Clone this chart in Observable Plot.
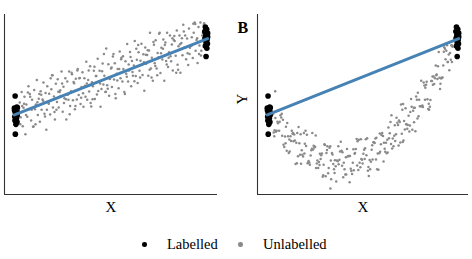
<!DOCTYPE html>
<html><head><meta charset="utf-8">
<script src="https://cdn.jsdelivr.net/npm/d3@7"></script>
<script src="https://cdn.jsdelivr.net/npm/@observablehq/plot@0.6"></script>
<style>
body{margin:0;background:#fff;}
#wrap{position:relative;width:472px;height:259px;font-family:"Liberation Serif","Times New Roman",serif;color:#000;}
.panel{position:absolute;top:0;}
.dot{position:absolute;top:242px;width:4.5px;height:4.5px;border-radius:50%;}
.lab{position:absolute;top:237px;font-size:14.5px;line-height:14.5px;white-space:nowrap;}
</style></head>
<body><div id="wrap"></div>
<script>
// Labelled points (shared by both panels), [X, Y]
const labelled = [
[-0.004,0.227],[0.005,0.08],[-0.008,0.065],[0.008,0.07],[0.0,0.05],[-0.007,0.035],[0.006,0.02],[-0.003,0.0],[0.007,-0.03],[-0.006,-0.05],[0.003,-0.07],[-0.005,-0.1],[0.006,-0.12],[0.0,-0.15],[-0.003,-0.28],
[0.996,1.14],[1.003,1.11],[0.993,1.08],[1.008,1.06],[0.998,1.03],[1.008,1.01],[0.994,0.99],[1.005,0.97],[1.0,0.94],[1.007,0.92],[0.996,0.89],[1.004,0.86],[1.0,0.75]
];
// Panel A unlabelled points
const unlabelledA = [
[0.02,0.14],[0.025,-0.055],[0.03,0.28],[0.036,-0.174],[0.04,0.07],[0.045,0.215],[0.05,-0.28],[0.055,0.115],[0.06,-0.05],[0.066,0.356],
[0.07,0.05],[0.075,0.215],[0.08,-0.1],[0.085,0.175],[0.09,-0.18],[0.096,0.306],[0.1,0.05],[0.105,0.115],[0.11,0.44],[0.115,-0.025],
[0.12,0.19],[0.126,-0.114],[0.13,0.29],[0.135,0.045],[0.14,0.18],[0.145,0.405],[0.15,-0.01],[0.156,0.266],[0.16,-0.22],[0.165,0.355],
[0.17,0.14],[0.175,0.255],[0.18,-0.02],[0.186,0.316],[0.19,0.5],[0.195,0.075],[0.2,0.22],[0.205,-0.085],[0.21,0.39],[0.216,0.146],
[0.22,0.45],[0.225,0.075],[0.23,0.28],[0.235,0.225],[0.24,0.55],[0.246,0.016],[0.25,0.35],[0.255,0.195],[0.26,0.46],[0.265,-0.085],
[0.27,0.42],[0.276,0.176],[0.28,0.55],[0.285,0.095],[0.29,0.29],[0.295,0.515],[0.3,0.17],[0.306,0.396],[0.31,0.05],[0.315,0.455],
[0.32,0.18],[0.325,0.585],[0.33,0.24],[0.336,0.466],[0.34,0.12],[0.345,0.345],[0.35,0.54],[0.355,0.085],[0.36,0.46],[0.366,0.216],
[0.37,0.68],[0.375,0.175],[0.38,0.44],[0.385,0.285],[0.39,0.62],[0.396,0.086],[0.4,0.41],[0.405,0.355],[0.41,0.56],[0.415,0.185],
[0.42,0.49],[0.426,0.246],[0.43,0.72],[0.435,0.415],[0.44,0.56],[0.445,0.085],[0.45,0.32],[0.456,0.656],[0.46,0.38],[0.465,0.495],
[0.47,0.28],[0.475,0.855],[0.48,0.37],[0.486,0.646],[0.49,0.23],[0.495,0.455],[0.5,0.59],[0.505,0.345],[0.51,0.75],[0.516,0.446],
[0.52,0.66],[0.525,0.195],[0.53,0.52],[0.535,0.585],[0.54,0.33],[0.546,0.816],[0.55,0.46],[0.555,0.735],[0.56,0.42],[0.565,0.585],
[0.57,0.28],[0.576,0.686],[0.58,0.52],[0.585,0.915],[0.59,0.42],[0.595,0.565],[0.6,0.81],[0.606,0.356],[0.61,0.69],[0.615,0.495],
[0.62,0.63],[0.625,0.955],[0.63,0.49],[0.636,0.706],[0.64,0.4],[0.645,0.805],[0.65,0.56],[0.655,0.695],[0.66,0.92],[0.666,0.506],
[0.67,0.78],[0.675,0.295],[0.68,0.87],[0.685,0.655],[0.69,0.77],[0.696,0.496],[0.7,0.83],[0.705,1.065],[0.71,0.59],[0.715,0.735],
[0.72,0.43],[0.726,0.906],[0.73,0.66],[0.735,0.965],[0.74,0.59],[0.745,0.795],[0.75,0.74],[0.756,1.066],[0.76,0.53],[0.765,0.865],
[0.77,0.71],[0.775,0.975],[0.78,0.43],[0.786,0.936],[0.79,0.69],[0.795,1.065],[0.8,0.61],[0.805,0.805],[0.81,1.03],[0.816,0.686],
[0.82,0.91],[0.825,0.565],[0.83,0.97],[0.835,0.955],[0.84,0.76],[0.846,1.096],[0.85,0.64],[0.855,0.885],[0.86,1.03],[0.865,0.535],
[0.87,0.93],[0.876,0.766],[0.88,1.17],[0.885,0.865],[0.89,1.03],[0.895,0.715],[0.9,0.99],[0.906,0.636],[0.91,1.12],[0.915,0.865],
[0.92,0.89],[0.925,1.005],[0.93,0.73],[0.935,1.065],[0.94,1.2],[0.945,0.825],[0.95,0.97],[0.955,0.665],[0.96,1.14],[0.965,0.895],
[0.97,1.2],[0.975,0.825],[0.98,1.03],[0.985,0.975],[0.99,1.19],[0.995,0.765],
[0.023,-0.147],[0.043,0.123],[0.063,0.273],[0.083,0.043],[0.103,-0.147],[0.123,0.253],[0.143,0.163],[0.163,0.043],[0.183,0.463],[0.203,0.013],
[0.223,0.283],[0.243,0.393],[0.263,0.183],[0.283,-0.017],[0.303,0.413],[0.323,0.563],[0.343,0.203],[0.363,0.363],[0.383,0.563],[0.403,0.183],
[0.423,0.493],[0.443,0.393],[0.463,0.783],[0.483,0.323],[0.503,0.603],[0.523,0.253],[0.543,0.583],[0.563,0.753],[0.583,0.483],[0.603,0.743],
[0.623,0.423],[0.643,0.903],[0.663,0.643],[0.683,0.773],[0.703,0.573],[0.723,0.943],[0.743,0.503],[0.763,0.793],[0.783,0.903],[0.803,0.733],
[0.823,0.993],[0.843,0.533],[0.863,0.913],[0.883,1.083],[0.903,0.793],[0.923,0.893],[0.943,1.18],[0.963,0.783],[0.983,1.063],[0.995,0.935],
[0.033,0.093],[0.053,-0.027],[0.073,0.253],[0.093,-0.177],[0.113,0.143],[0.133,0.243],[0.153,-0.047],[0.173,0.123],[0.193,0.503],[0.213,0.043],
[0.233,0.303],[0.253,0.133],[0.273,0.243],[0.293,0.533],[0.313,0.093],[0.333,0.463],[0.353,0.263],[0.373,0.393],[0.393,0.133],[0.413,0.613],
[0.433,0.293],[0.453,0.553],[0.473,0.283],[0.493,0.453],[0.513,0.783],[0.533,0.433],[0.553,0.713],[0.573,0.253],[0.593,0.643],[0.613,0.543],
[0.633,0.853],[0.653,0.473],[0.673,0.673],[0.693,0.833],[0.713,0.473],[0.733,0.623],[0.753,1.053],[0.773,0.853],[0.793,0.643],[0.813,0.753],
[0.833,1.023],[0.853,0.573],[0.873,0.993],[0.893,0.873],[0.913,0.783],[0.933,1.183],[0.953,0.993],[0.973,0.763],[0.993,0.913],[0.988,1.168]
];
// Panel B unlabelled points
const unlabelledB = [
[0.022,-0.017],[0.042,-0.235],[0.062,-0.03],[0.082,-0.451],[0.102,-0.309],[0.122,-0.233],[0.142,-0.674],[0.162,-0.402],[0.182,-0.576],[0.202,-0.287],
[0.222,-0.564],[0.242,-0.458],[0.262,-0.728],[0.282,-0.535],[0.302,-0.839],[0.322,-0.459],[0.342,-0.676],[0.362,-0.63],[0.382,-0.38],[0.402,-0.746],
[0.422,-0.569],[0.442,-0.809],[0.462,-0.475],[0.482,-0.658],[0.502,-0.538],[0.522,-0.334],[0.542,-0.647],[0.562,-0.396],[0.582,-0.752],[0.602,-0.264],
[0.622,-0.393],[0.642,-0.269],[0.662,-0.441],[0.682,-0.13],[0.702,0.115],[0.722,-0.217],[0.742,-0.035],[0.762,-0.221],[0.782,0.218],[0.802,0.09],
[0.822,0.405],[0.842,0.183],[0.862,0.425],[0.882,0.461],[0.902,0.809],[0.922,0.472],[0.942,0.827],[0.962,0.796],
[0.026,-0.257],[0.046,-0.115],[0.066,-0.06],[0.086,-0.311],[0.106,-0.529],[0.126,-0.273],[0.146,-0.394],[0.166,-0.552],[0.186,-0.266],[0.206,-0.667],
[0.226,-0.494],[0.246,-0.448],[0.266,-0.648],[0.286,-0.845],[0.306,-0.529],[0.326,-0.439],[0.346,-0.746],[0.366,-0.64],[0.386,-0.5],[0.406,-0.816],
[0.426,-0.569],[0.446,-0.659],[0.466,-0.345],[0.486,-0.718],[0.506,-0.488],[0.526,-0.764],[0.546,-0.487],[0.566,-0.336],[0.586,-0.532],[0.606,-0.304],
[0.626,-0.533],[0.646,-0.119],[0.666,-0.301],[0.686,-0.16],[0.706,-0.275],[0.726,0.063],[0.746,-0.245],[0.766,0.029],[0.786,0.178],[0.806,0.09],
[0.826,0.365],[0.846,0.053],[0.866,0.425],[0.886,0.631],[0.906,0.469],[0.926,0.632],[0.946,0.9],[0.966,0.706],
[0.031,-0.227],[0.051,0.035],[0.071,-0.3],[0.091,-0.181],[0.111,-0.509],[0.131,-0.373],[0.151,-0.264],[0.171,-0.672],[0.191,-0.406],[0.211,-0.637],
[0.231,-0.264],[0.251,-0.728],[0.271,-0.538],[0.291,-0.685],[0.311,-0.439],[0.331,-0.879],[0.351,-0.626],[0.371,-0.68],[0.391,-0.52],[0.411,-0.816],
[0.431,-0.569],[0.451,-0.759],[0.471,-0.375],[0.491,-0.608],[0.511,-0.468],[0.531,-0.834],[0.551,-0.617],[0.571,-0.326],[0.591,-0.512],[0.611,-0.394],
[0.631,-0.523],[0.651,-0.029],[0.671,-0.371],[0.691,-0.1],[0.711,-0.385],[0.731,-0.147],[0.751,0.015],[0.771,-0.121],[0.791,0.268],[0.811,0.09],
[0.831,0.335],[0.851,0.043],[0.871,0.375],[0.891,0.511],[0.911,0.389],[0.931,0.872],[0.951,0.677],[0.971,0.9],
[0.035,-0.067],[0.055,-0.235],[0.075,-0.09],[0.095,-0.501],[0.115,-0.309],[0.135,-0.283],[0.155,-0.574],[0.175,-0.492],[0.195,-0.236],[0.215,-0.657],
[0.235,-0.484],[0.255,-0.668],[0.275,-0.608],[0.295,-0.415],[0.315,-0.799],[0.335,-0.529],[0.355,-0.706],[0.375,-0.62],[0.395,-0.85],[0.415,-0.476],
[0.435,-0.739],[0.455,-0.539],[0.475,-0.755],[0.495,-0.618],[0.515,-0.348],[0.535,-0.624],[0.555,-0.387],[0.575,-0.746],[0.595,-0.412],[0.615,-0.474],
[0.635,-0.193],[0.655,-0.469],[0.675,-0.281],[0.695,-0.12],[0.715,-0.365],[0.735,-0.207],[0.755,0.185],[0.775,0.069],[0.795,-0.042],[0.815,0.1],
[0.835,0.375],[0.855,0.083],[0.875,0.485],[0.895,0.451],[0.915,0.459],[0.935,0.852],[0.955,0.777],[0.972,0.676],
[0.038,-0.247],[0.058,-0.115],[0.078,-0.42],[0.098,-0.131],[0.118,-0.369],[0.138,-0.363],[0.158,-0.184],[0.178,-0.552],[0.198,-0.436],[0.218,-0.687],
[0.238,-0.434],[0.258,-0.628],[0.278,-0.558],[0.298,-0.425],[0.318,-0.729],[0.338,-0.549],[0.358,-0.906],[0.378,-0.51],[0.398,-0.66],[0.418,-0.576],
[0.438,-0.769],[0.458,-0.529],[0.478,-0.355],[0.498,-0.668],[0.518,-0.558],[0.538,-0.744],[0.558,-0.387],[0.578,-0.536],[0.598,-0.292],[0.618,-0.514],
[0.638,-0.333],[0.658,-0.339],[0.678,-0.061],[0.698,-0.39],[0.718,-0.105],[0.738,-0.157],[0.758,0.085],[0.778,-0.241],[0.798,0.178],[0.818,0.08],
[0.838,0.415],[0.858,0.173],[0.878,0.385],[0.898,0.621],[0.918,0.469],[0.938,0.712],[0.958,0.567],[0.975,0.88],
[0.029,-0.307],[0.049,-0.135],[0.069,-0.01],[0.089,-0.401],[0.109,-0.349],[0.129,-0.263],[0.149,-0.664],[0.169,-0.282],[0.189,-0.536],[0.209,-0.657],
[0.229,-0.474],[0.249,-0.298],[0.269,-0.688],[0.289,-0.825],[0.309,-0.489],[0.329,-0.629],[0.349,-0.796],[0.369,-0.44],[0.389,-0.7],[0.409,-0.586],
[0.429,-0.919],[0.449,-0.479],[0.469,-0.695],[0.489,-0.348],[0.509,-0.608],[0.529,-0.714],[0.549,-0.427],[0.569,-0.616],[0.589,-0.272],[0.609,-0.644],
[0.629,-0.353],[0.649,-0.409],[0.669,-0.161],[0.689,-0.43],[0.709,0.045],[0.729,-0.147],[0.749,-0.165],[0.769,0.069],[0.789,-0.072],[0.809,0.43],
[0.829,0.175],[0.849,0.123],[0.869,0.485],[0.889,0.501],[0.909,0.319],[0.929,0.812],[0.949,0.677],[0.969,0.896],
[0.327,-1.0],[0.034,0.29],[0.713,0.12]
];

const xDomain = [-0.06, 1.06];
const yDomain = [-1.08, 1.307];
const FONT = '"Liberation Serif","Times New Roman",serif';
const AXIS = "#333";
const GRAY = "#8a8a8a";
const BLUE = "#4682b4";

function panel(unlabelled, opts) {
  const marks = [
    Plot.ruleX([xDomain[0]], {stroke: AXIS, strokeWidth: 1.1}),
    Plot.ruleY([yDomain[0]], {stroke: AXIS, strokeWidth: 1.1}),
    Plot.dot(unlabelled, {x: d => d[0], y: d => d[1], r: 1.25, fill: GRAY, stroke: "none"}),
    Plot.dot(labelled, {x: d => d[0], y: d => d[1], r: 2.8, fill: "#000", stroke: "none"}),
    Plot.linearRegressionY(labelled, {x: d => d[0], y: d => d[1], ci: 0, stroke: BLUE, strokeWidth: 3}),
    Plot.text(["X"], {frameAnchor: "bottom", dy: 17.5, fontSize: 15, fill: "#000"})
  ];
  if (opts.extra) marks.push(...opts.extra);
  return Plot.plot({
    width: 236, height: 220,
    marginLeft: opts.ml, marginRight: opts.mr, marginTop: 14, marginBottom: 26,
    x: {domain: xDomain, axis: null},
    y: {domain: yDomain, axis: null},
    style: {fontFamily: FONT, background: "transparent", overflow: "visible"},
    marks
  });
}

const wrap = document.getElementById("wrap");
const pA = panel(unlabelledA, {ml: 4, mr: 19});
pA.classList.add("panel"); pA.style.left = "0px";
const pB = panel(unlabelledB, {ml: 21, mr: 4, extra: [
  Plot.text(["B"], {frameAnchor: "top-left", dx: -20, dy: 7, textAnchor: "start", fontSize: 16, fontWeight: "bold", fill: "#000"}),
  Plot.text(["Y"], {frameAnchor: "left", dx: -15.5, rotate: -90, fontSize: 15, fill: "#000"})
]});
pB.classList.add("panel"); pB.style.left = "236px";
wrap.appendChild(pA);
wrap.appendChild(pB);

// Legend
const legendItems = [
  {label: "Labelled", color: "#000", dot: 142, text: 167},
  {label: "Unlabelled", color: GRAY, dot: 238, text: 263}
];
for (const it of legendItems) {
  const d = document.createElement("span");
  d.className = "dot"; d.style.left = it.dot + "px"; d.style.background = it.color;
  const t = document.createElement("span");
  t.className = "lab"; t.style.left = it.text + "px"; t.textContent = it.label;
  wrap.appendChild(d); wrap.appendChild(t);
}
</script></body></html>
